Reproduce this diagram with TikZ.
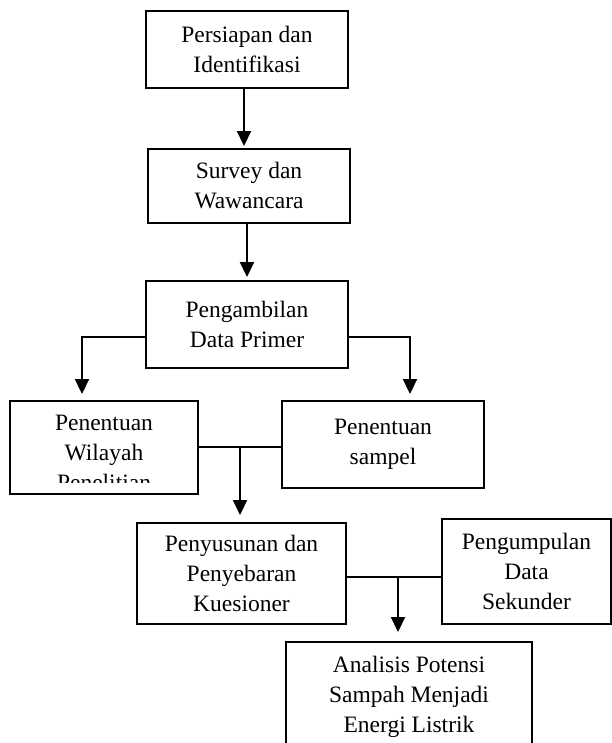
\documentclass[tikz,border=0pt]{standalone}
\usepackage{fontspec}
\setmainfont{Liberation Serif}
\usetikzlibrary{arrows.meta}
\begin{document}
\begin{tikzpicture}[x=1pt,y=-1pt,
  box/.style={draw,line width=1.9pt,inner sep=0pt,align=center,font=\fontsize{23.5}{30}\selectfont},
  lbl/.style={inner sep=0pt,align=center,font=\fontsize{23.5}{30}\selectfont},
  conn/.style={line width=1.9pt},
  arr/.style={line width=1.9pt,-{Triangle[width=14pt,length=15pt]}}]
\useasboundingbox (0,0) rectangle (612,743);
\clip (0,0) rectangle (612,743);
% boxes
\node[box,minimum width=202,minimum height=77] (b1) at (247,49.5) {Persiapan dan\\Identifikasi};
\node[box,minimum width=202,minimum height=74] (b2) at (249,186) {Survey dan\\Wawancara};
\node[box,minimum width=202,minimum height=87] (b3) at (247,324.5) {Pengambilan\\Data Primer};
\node[box,minimum width=188,minimum height=93] (b4) at (104,447.5) {};
\begin{scope}
  \clip (11,402) rectangle (197,482);
  \node[lbl] (t4) at (104,453) {Penentuan\\Wilayah\\Penelitian};
\end{scope}
\node[box,minimum width=202,minimum height=87] (b5) at (383,444.5) {Penentuan\\sampel};
\node[box,minimum width=209,minimum height=101] (b6) at (241.5,573.5) {Penyusunan dan\\Penyebaran\\Kuesioner};
\node[box,minimum width=169,minimum height=105] (b7) at (526.5,571.5) {Pengumpulan\\Data\\Sekunder};
\node[box,minimum width=246,minimum height=128] (b8) at (409,706) {};
\node[lbl] (t8) at (409,697) {Analisis Potensi\\Sampah Menjadi\\Energi Listrik};
% turn and junction points
\coordinate (l1) at (82,337);
\coordinate (r1) at (410,337);
\coordinate (m1) at (240,447);
\coordinate (m2) at (398,577);
% connectors
\draw[arr,shorten >=2pt] ([xshift=-3pt]b1.south) -- ([xshift=-3pt]b1.south |- b2.north);
\draw[arr,shorten >=3pt] ([xshift=-2pt]b2.south) -- ([xshift=-2pt]b2.south |- b3.north);
\draw[arr,shorten >=6pt] (b3.west |- l1) -| (b4.north -| l1);
\draw[arr,shorten >=6pt] (b3.east |- r1) -| (b5.north -| r1);
\draw[conn] (b4.east |- m1) -- (b5.west |- m1);
\draw[arr,shorten >=7pt] (m1) -- (b6.north -| m1);
\draw[conn] (b6.east |- m2) -- (b7.west |- m2);
\draw[arr,shorten >=9pt] (m2) -- (b8.north -| m2);
\end{tikzpicture}
\end{document}
